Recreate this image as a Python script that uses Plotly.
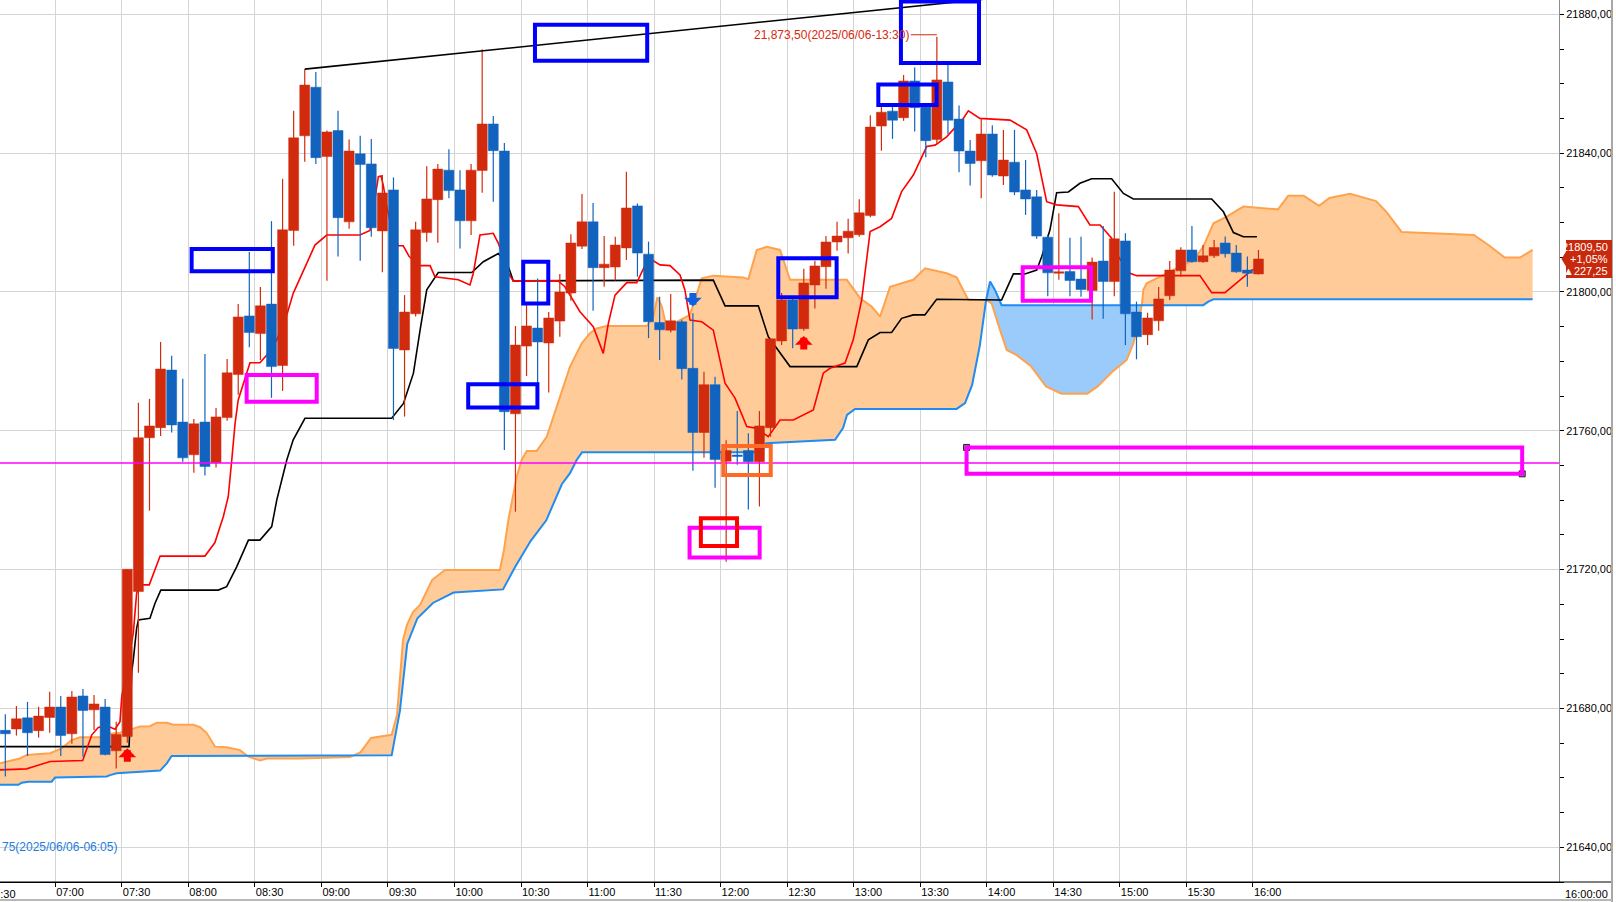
import plotly.graph_objects as go

# ---------------- data ----------------
times = ["06:35","06:40","06:45","06:50","06:55","07:00","07:05","07:10","07:15","07:20","07:25",
         "07:30","07:35","07:40","07:45","07:50","07:55","08:00","08:05","08:10","08:15","08:20",
         "08:25","08:30","08:35","08:40","08:45","08:50","08:55","09:00","09:05","09:10","09:15",
         "09:20","09:25","09:30","09:35","09:40","09:45","09:50","09:55","10:00","10:05","10:10",
         "10:15","10:20","10:25","10:30","10:35","10:40","10:45","10:50","10:55","11:00","11:05",
         "11:10","11:15","11:20","11:25","11:30","11:35","11:40","11:45","11:50","11:55","12:00",
         "12:05","12:10","12:15","12:20","12:25","12:30","12:35","12:40","12:45","12:50","12:55",
         "13:00","13:05","13:10","13:15","13:20","13:25","13:30","13:35","13:40","13:45","13:50",
         "13:55","14:00","14:05","14:10","14:15","14:20","14:25","14:30","14:35","14:40","14:45",
         "14:50","14:55","15:00","15:05","15:10","15:15","15:20","15:25","15:30","15:35","15:40",
         "15:45","15:50","15:55","16:00"]
opens = [21673.7,21674.1,21677.3,21673.6,21677.4,21680.4,21672.7,21683.6,21679.6,21680.4,21667.8,
         21671.9,21713.7,21758.0,21760.9,21777.5,21762.5,21753.1,21762.5,21750.8,21763.8,21776.2,
         21793.1,21788.0,21796.5,21778.8,21817.7,21845.0,21859.0,21839.0,21846.5,21820.2,21839.8,
         21836.9,21817.6,21829.4,21783.3,21793.7,21817.1,21826.6,21835.1,21829.4,21820.5,21835.0,
         21848.4,21840.6,21764.9,21784.4,21789.6,21785.3,21791.6,21799.7,21813.2,21820.2,21807.0,
         21807.2,21812.7,21824.8,21810.9,21791.2,21789.0,21791.4,21778.0,21759.5,21773.3,21751.2,
         21753.0,21754.3,21751.1,21760.9,21785.9,21797.7,21789.4,21802.0,21807.3,21814.4,21815.6,
         21816.5,21822.0,21847.8,21852.1,21850.2,21860.8,21853.4,21843.9,21860.5,21849.8,21840.6,
         21837.8,21845.5,21833.4,21837.4,21829.4,21827.4,21815.8,21805.4,21805.9,21803.7,21800.4,
         21808.9,21803.0,21814.7,21794.2,21787.7,21791.7,21798.9,21806.1,21812.1,21808.7,21810.4,
         21814.1,21811.2,21806.3,21805.2]
highs = [21678.3,21680.7,21681.9,21680.5,21684.8,21683.6,21685.0,21685.6,21683.9,21682.7,21676.2,
         21720.1,21768.1,21769.2,21785.6,21781.6,21775.0,21763.4,21782.1,21766.6,21780.7,21796.5,
         21811.5,21801.4,21820.4,21832.6,21852.2,21864.2,21863.4,21846.5,21852.2,21843.9,21845.0,
         21844.1,21833.7,21833.0,21799.1,21820.2,21836.2,21836.9,21841.1,21835.1,21836.9,21869.9,
         21850.7,21842.9,21790.2,21796.5,21803.9,21794.2,21805.2,21816.6,21828.2,21825.6,21816.1,
         21815.9,21834.6,21825.5,21814.5,21798.6,21799.4,21792.0,21793.9,21777.0,21775.6,21757.3,
         21765.7,21759.3,21765.7,21786.5,21799.7,21798.3,21806.7,21809.0,21816.1,21820.2,21821.1,
         21826.7,21850.9,21853.8,21853.9,21862.5,21864.7,21853.8,21873.5,21865.4,21853.7,21843.8,
         21850.0,21848.0,21846.7,21846.7,21838.0,21829.4,21816.5,21822.7,21815.6,21815.9,21809.9,
         21819.0,21828.9,21816.9,21797.2,21794.0,21801.4,21808.9,21812.9,21819.0,21813.5,21815.0,
         21816.0,21813.5,21810.2,21812.1]
lows = [21660.4,21672.2,21666.3,21671.6,21673.0,21666.3,21669.8,21666.1,21673.8,21666.5,21662.7,
        21670.1,21690.3,21737.0,21758.5,21759.5,21751.1,21747.9,21747.1,21749.4,21762.9,21770.4,
        21784.1,21780.4,21769.5,21771.5,21813.3,21837.5,21836.9,21803.2,21810.2,21818.2,21809.0,
        21815.9,21805.7,21763.1,21764.1,21792.9,21814.5,21814.2,21827.0,21812.5,21816.4,21828.6,
        21826.0,21754.5,21736.7,21775.8,21773.5,21771.0,21787.1,21797.5,21812.4,21794.6,21801.5,
        21803.3,21809.2,21804.4,21786.7,21780.4,21788.3,21774.8,21748.5,21752.2,21743.6,21722.3,
        21750.2,21737.3,21738.2,21758.3,21784.7,21783.8,21788.8,21795.2,21800.9,21811.9,21811.1,
        21815.9,21821.5,21840.7,21844.1,21849.3,21846.2,21838.8,21842.5,21845.5,21834.5,21830.7,
        21827.0,21833.2,21830.8,21827.9,21822.2,21815.3,21798.8,21803.5,21798.8,21798.6,21792.1,
        21792.3,21798.8,21784.7,21780.6,21784.7,21788.8,21797.7,21804.4,21808.4,21808.4,21809.8,
        21809.9,21805.5,21801.5,21805.0]
closes = [21672.7,21677.0,21673.0,21677.8,21680.4,21672.2,21683.3,21679.4,21681.3,21666.7,21672.5,
          21720.1,21758.0,21761.4,21777.8,21761.7,21752.2,21762.0,21749.7,21764.0,21776.7,21792.8,
          21788.3,21796.0,21778.5,21817.9,21844.4,21859.6,21838.7,21846.1,21821.4,21840.6,21836.7,
          21818.5,21828.5,21783.7,21794.2,21817.9,21826.8,21835.4,21829.2,21820.5,21835.1,21848.4,
          21840.7,21765.5,21784.7,21790.2,21785.6,21792.5,21800.0,21814.1,21820.2,21807.0,21808.0,
          21813.5,21824.2,21811.2,21791.4,21789.1,21791.7,21777.9,21759.5,21773.3,21751.7,21754.3,
          21752.6,21751.1,21761.4,21786.5,21797.7,21789.3,21802.6,21807.5,21814.4,21816.1,21817.5,
          21822.8,21847.5,21851.8,21849.5,21860.8,21853.1,21843.6,21861.1,21849.5,21840.6,21837.0,
          21845.5,21833.7,21838.0,21828.8,21826.8,21816.1,21805.5,21805.8,21803.3,21800.7,21808.6,
          21803.0,21815.3,21793.7,21787.1,21792.5,21798.0,21806.3,21812.1,21808.7,21810.4,21812.8,
          21811.0,21805.8,21805.4,21809.5]

# Ichimoku lines: (minutes since midnight, price)
tenkan = [(395.1,21662.3),(407.1,21662.6),(410.1,21663.2),(417.7,21664.7),(432.4,21665.0),(434.5,21669.0),
          (436.5,21672.4),(439.4,21674.5),(443.2,21675.0),(447.0,21674.0),(449.2,21676.2),(450.0,21683.4),
          (455.2,21701.7),(456.7,21713.2),(458.2,21715.6),(462.4,21715.6),(467.3,21723.9),(487.5,21723.9),
          (492.0,21727.8),(495.8,21735.3),(498.0,21741.0),(499.6,21751.6),(501.1,21762.2),(502.5,21768.9),
          (506.3,21776.1),(507.8,21779.6),(512.3,21779.6),(515.4,21781.8),(519.9,21786.2),(524.4,21793.4),
          (527.3,21799.6),(531.9,21806.3),(537.1,21813.5),(542.4,21816.4),(557.4,21816.4),(561.9,21817.7),
          (565.7,21833.2),(566.9,21833.4),(567.9,21830.8),(569.5,21824.6),(571.8,21817.9),(574.7,21813.3),
          (576.9,21813.3),(579.6,21810.2),(584.5,21807.6),(589.0,21807.6),(591.2,21804.4),(601.7,21803.5),
          (607.0,21802.0),(608.5,21805.4),(611.5,21816.4),(617.5,21816.9),(619.8,21814.0),(624.3,21805.4),
          (626.5,21803.2),(646.7,21803.2),(649.8,21801.5),(656.6,21794.3),(662.6,21790.0),(667.1,21782.3),
          (669.4,21791.0),(672.4,21799.1),(677.7,21802.7),(682.2,21802.7),(686.7,21808.7),(689.7,21809.0),
          (692.7,21807.8),(697.2,21807.6),(701.7,21804.9),(703.9,21800.6),(706.2,21791.9),(711.5,21791.4),
          (716.7,21789.0),(722.0,21773.7),(726.5,21769.4),(731.8,21761.2),(736.3,21760.7),(741.5,21758.3),
          (746.8,21763.1),(752.8,21763.1),(757.3,21764.6),(761.8,21766.0),(766.3,21776.6),(769.3,21778.0),
          (776.1,21779.5),(779.8,21786.2),(783.6,21797.7),(787.4,21817.4),(791.9,21818.8),(797.1,21821.2),
          (801.6,21828.9),(806.9,21833.7),(812.9,21841.9),(816.7,21842.3),(821.9,21844.7),(829.4,21850.0),
          (831.7,21852.2),(836.9,21850.0),(850.5,21849.5),(858.0,21846.7),(862.5,21839.9),(867.0,21826.0),
          (871.5,21825.1),(881.3,21824.6),(886.5,21819.3),(891.1,21819.3),(896.3,21815.5),(899.3,21810.2),
          (904.6,21805.4),(907.6,21804.7),(936.1,21804.7),(941.4,21799.8),(947.4,21799.8),(955.7,21804.4),
          (959.5,21806.3),(962.3,21806.9)]
kijun = [(395.1,21669.0),(453.3,21669.0),(454.5,21690.6),(455.2,21694.0),(456.7,21703.1),(457.5,21705.5),
         (462.7,21706.0),(465.0,21710.3),(467.6,21714.1),(493.5,21714.1),(497.3,21715.1),(501.8,21720.8),
         (507.1,21728.5),(512.3,21728.5),(517.6,21732.4),(519.9,21740.1),(524.4,21751.6),(527.3,21757.4),
         (532.6,21763.6),(571.7,21763.6),(577.0,21767.9),(581.5,21776.6),(584.5,21789.0),(587.5,21800.6),
         (592.7,21805.6),(607.8,21805.6),(613.0,21808.7),(619.8,21811.1),(624.3,21807.3),(626.5,21803.2),
         (716.7,21803.4),(722.0,21796.0),(737.0,21796.0),(741.5,21787.1),(751.3,21778.5),(781.4,21778.5),
         (786.6,21786.2),(791.9,21788.3),(797.1,21788.3),(801.6,21792.4),(806.9,21793.4),(812.1,21793.4),
         (817.4,21797.9),(846.7,21797.7),(852.0,21805.2),(857.2,21805.2),(862.5,21806.3),(864.8,21810.2),
         (868.5,21817.9),(871.5,21828.6),(876.8,21828.8),(882.0,21831.3),(887.3,21832.6),(896.3,21832.6),
         (901.6,21828.4),(906.1,21826.8),(941.4,21826.8),(946.7,21823.1),(951.2,21817.1),(955.7,21815.9),
         (961.8,21815.9)]
span_a = [(395.1,21664.2),(404.1,21665.6),(407.1,21666.6),(417.7,21667.1),(422.9,21668.5),(427.4,21670.9),
          (431.2,21671.7),(440.2,21671.7),(444.7,21672.7),(449.2,21673.0),(455.2,21674.2),(458.2,21674.8),
          (462.7,21674.9),(465.8,21675.9),(470.3,21675.9),(473.2,21675.3),(482.3,21675.3),(485.3,21674.6),
          (488.3,21672.9),(492.0,21669.0),(497.3,21668.8),(503.3,21668.0),(507.1,21666.1),(512.3,21665.0),
          (515.4,21665.6),(530.4,21665.6),(552.9,21666.0),(557.7,21667.4),(562.4,21671.5),(571.7,21672.4),
          (574.1,21678.1),(576.8,21699.7),(578.6,21704.1),(581.3,21707.8),(584.5,21709.8),(589.9,21717.0),
          (595.7,21719.9),(620.5,21719.9),(622.3,21725.6),(624.3,21734.3),(628.1,21746.8),(630.3,21751.6),
          (632.6,21754.2),(637.1,21754.2),(641.6,21758.3),(646.1,21767.0),(652.1,21778.5),(657.4,21785.2),
          (661.1,21788.1),(664.1,21789.5),(668.6,21790.2),(686.7,21790.2),(689.7,21792.9),(691.5,21798.5),
          (693.5,21795.8),(694.9,21791.9),(696.4,21790.0),(701.7,21791.9),(706.2,21793.4),(711.5,21803.9),
          (716.7,21804.7),(730.2,21804.2),(732.5,21803.7),(736.3,21812.1),(740.8,21813.0),(746.8,21812.1),
          (751.3,21803.5),(776.9,21803.5),(782.9,21798.2),(788.1,21795.8),(791.9,21792.9),(796.4,21801.5),
          (806.9,21803.5),(812.2,21806.8),(821.9,21805.4),(826.4,21804.2),(831.7,21797.7),(839.7,21797.7),
          (842.2,21796.7),(846.0,21789.0),(849.0,21783.3),(853.5,21781.8),(859.8,21778.7),(866.7,21772.8),
          (873.7,21770.7),(885.3,21770.7),(890.0,21772.8),(896.9,21777.2),(903.1,21780.4),(906.1,21785.2),
          (908.3,21791.0),(909.9,21796.2),(910.6,21800.6),(912.1,21802.5),(918.1,21804.4),(933.1,21809.2),
          (937.6,21813.0),(942.2,21819.8),(948.2,21821.7),(955.7,21824.6),(971.3,21823.8),(975.9,21827.7),
          (982.9,21827.7),(989.8,21824.8),(994.5,21827.1),(1003.8,21828.3),(1015.5,21826.2),(1020.0,21823.2),
          (1027.0,21817.3),(1059.6,21816.4),(1066.5,21813.4),(1073.5,21809.9),(1080.4,21809.9),(1086.1,21812.1)]
span_b = [(395.1,21658.0),(403.4,21658.0),(404.9,21658.6),(407.9,21658.9),(418.4,21658.9),(419.9,21660.1),
          (443.2,21660.4),(444.7,21660.8),(447.7,21661.3),(455.2,21661.6),(467.3,21662.1),(470.3,21664.2),
          (472.5,21666.3),(571.7,21666.5),(575.4,21679.3),(578.7,21698.6),(583.3,21706.0),(590.3,21710.4),
          (599.6,21713.4),(621.9,21714.3),(627.4,21720.8),(634.4,21728.3),(641.4,21734.2),(648.4,21744.6),
          (652.1,21747.8),(655.1,21751.6),(657.5,21753.8),(738.5,21753.8),(740.5,21756.4),(771.6,21757.4),
          (775.2,21760.8),(777.0,21764.6),(780.6,21766.3),(826.4,21766.3),(830.2,21768.0),(833.4,21773.2),
          (836.9,21784.7),(839.7,21797.7),(841.5,21803.0),(843.7,21800.6),(846.7,21796.2),(909.9,21796.2),
          (937.6,21796.2),(939.9,21797.2),(942.2,21797.9),(1086.1,21797.9)]
blue_cloud_from, blue_cloud_to = 839.7, 909.9   # span B above span A

# user drawings (rectangles): start/end minute, bottom/top price, colour
rect_t0 = [481.5, 506.3, 636.3, 631.0, 606.2, 801.3, 791.1, 746.0, 721.2, 706.0, 711.1, 856.2, 830.9]
rect_t1 = [518.1, 537.9, 686.9, 642.3, 637.4, 836.5, 817.4, 772.3, 742.6, 737.6, 727.4, 887.0, 1081.4]
rect_p0 = [21806.0, 21768.4, 21866.6, 21796.7, 21766.7, 21866.0, 21853.9, 21798.5, 21747.3, 21723.5, 21726.8, 21797.5, 21747.6]
rect_p1 = [21812.4, 21776.1, 21877.0, 21808.7, 21773.4, 21883.7, 21859.8, 21809.7, 21755.6, 21732.1, 21734.8, 21807.1, 21755.2]
rect_col = ["#0000FF", "#FF00FF", "#0000FF", "#0000FF", "#0000FF", "#0000FF", "#0000FF", "#0000FF",
            "#FF6A26", "#FF00FF", "#FF0000", "#FF00FF", "#FF00FF"]
hline_price = 21750.75
trend_t = [532.5, 900.0]
trend_p = [21864.2, 21888.4]

up_arrows_t = ["07:30", "12:35"]
up_arrows_p = [21668.5, 21787.3]
down_arrows_t = ["11:45"]
down_arrows_p = [21795.8]

high_label = "21,873,50(2025/06/06-13:30)"
high_time, high_price = "13:35", 21873.5
low_label = "75(2025/06/06-06:05)"
low_label_price = 21640.1
last_change = ["+1,05%", "\u25b2227,25"]

tick_text = ["07:00","07:30","08:00","08:30","09:00","09:30","10:00","10:30","11:00","11:30",
             "12:00","12:30","13:00","13:30","14:00","14:30","15:00","15:30","16:00"]

# ---------------- helpers ----------------
def tm(s):
    h, m = s.split(":")
    return int(h) * 60 + float(m)

UP = "#D22A0C"
DOWN = "#1263BE"
BAR_HALF = 2.5
BODY_HALF = 2.25
x_range = [395.1, 1098.0]
y_range = [21630.0, 21884.12]
FONT = "Liberation Sans"

xc = [tm(t) + BAR_HALF for t in times]
is_up = [c >= o for o, c in zip(opens, closes)]

fig = go.Figure()

# cloud fills
a_t = [p[0] for p in span_a]; a_p = [p[1] for p in span_a]
b_t = [p[0] for p in span_b]; b_p = [p[1] for p in span_b]
fig.add_trace(go.Scatter(x=a_t + b_t[::-1], y=a_p + b_p[::-1], fill="toself", fillcolor="#FFCC99",
                         mode="none", hoverinfo="skip"))
bb = [p for p in span_b if blue_cloud_from <= p[0] <= blue_cloud_to]
aa = [p for p in span_a if blue_cloud_from <= p[0] <= blue_cloud_to]
fig.add_trace(go.Scatter(x=[p[0] for p in bb] + [p[0] for p in aa[::-1]],
                         y=[p[1] for p in bb] + [p[1] for p in aa[::-1]],
                         fill="toself", fillcolor="#9ACBFB", mode="none", hoverinfo="skip"))
fig.add_trace(go.Scatter(x=a_t, y=a_p, mode="lines", line=dict(color="#FFA24E", width=2), hoverinfo="skip"))
fig.add_trace(go.Scatter(x=b_t, y=b_p, mode="lines", line=dict(color="#1E8CF0", width=2), hoverinfo="skip"))

# tenkan / kijun
fig.add_trace(go.Scatter(x=[p[0] for p in kijun], y=[p[1] for p in kijun], mode="lines",
                         line=dict(color="black", width=1.6), hoverinfo="skip"))
fig.add_trace(go.Scatter(x=[p[0] for p in tenkan], y=[p[1] for p in tenkan], mode="lines",
                         line=dict(color="#FF0000", width=1.6), hoverinfo="skip"))

# wicks and bodies (scatter polygons so they sit above the cloud fill)
for flag, col in ((True, UP), (False, DOWN)):
    wx, wy, bx, by = [], [], [], []
    for x, o, h, l, c, u in zip(xc, opens, highs, lows, closes, is_up):
        if u != flag:
            continue
        wx += [x, x, None]
        wy += [l, h, None]
        lo = min(o, c)
        hi = max(max(o, c), lo + 0.4)
        bx += [x - BODY_HALF, x + BODY_HALF, x + BODY_HALF, x - BODY_HALF, x - BODY_HALF, None]
        by += [lo, lo, hi, hi, lo, None]
    fig.add_trace(go.Scatter(x=wx, y=wy, mode="lines", line=dict(color=col, width=1.2), hoverinfo="skip"))
    fig.add_trace(go.Scatter(x=bx, y=by, mode="lines", fill="toself", fillcolor=col,
                             line=dict(color=col, width=0.5), hoverinfo="skip"))

# selection handles of the large magenta box
fig.add_trace(go.Scatter(x=[rect_t0[-1], rect_t1[-1]], y=[rect_p1[-1], rect_p0[-1]], mode="markers",
                         marker=dict(symbol="square", size=6, color="#8A8A8A", line=dict(color="#222", width=1)),
                         hoverinfo="skip"))

shapes = []
shapes.append(dict(type="line", xref="paper", x0=0, x1=1, yref="y", y0=hline_price, y1=hline_price,
                   line=dict(color="#FF00FF", width=1.5)))
shapes.append(dict(type="line", xref="x", yref="y", x0=trend_t[0], x1=trend_t[1], y0=trend_p[0], y1=trend_p[1],
                   line=dict(color="black", width=1.6)))
for t0, t1, p0, p1, c in zip(rect_t0, rect_t1, rect_p0, rect_p1, rect_col):
    shapes.append(dict(type="rect", xref="x", yref="y", x0=t0, x1=t1, y0=p0, y1=p1,
                       line=dict(color=c, width=4), fillcolor="rgba(0,0,0,0)"))

# frame pieces
px_w = 1559.0
shapes.append(dict(type="line", xref="paper", yref="paper", x0=0, x1=1612 / px_w, y0=0, y1=0,
                   line=dict(color="black", width=1)))
shapes.append(dict(type="line", xref="paper", yref="paper", x0=1612 / px_w, x1=1612 / px_w, y0=-0.03, y1=1,
                   line=dict(color="#A8A8A8", width=2)))
shapes.append(dict(type="line", xref="paper", yref="paper", x0=0, x1=1612 / px_w, y0=-18 / 882, y1=-18 / 882,
                   line=dict(color="#B8B8B8", width=2)))

# last-price label on the axis
last = closes[-1]
shapes.append(dict(type="rect", xref="paper", yref="y", x0=1566 / px_w, x1=1612 / px_w,
                   y0=last - 5.5, y1=last + 5.5, fillcolor="#C8290C", line=dict(width=0)))
shapes.append(dict(type="path", xref="paper", yref="y",
                   path=f"M {1561.5/px_w},{last} L {1566.5/px_w},{last+2.4} L {1566.5/px_w},{last-2.4} Z",
                   fillcolor="#C8290C", line=dict(width=0)))

annotations = []
lines_lbl = [f"{last:.2f}".replace(".", ",")] + last_change
for i, txt in enumerate(lines_lbl):
    annotations.append(dict(xref="paper", yref="y", x=1610 / px_w, y=last, yshift=12 - 12 * i,
                            xanchor="right", yanchor="middle", text=txt, showarrow=False,
                            font=dict(family=FONT, size=11, color="white")))

for t, p in zip(up_arrows_t, up_arrows_p):
    annotations.append(dict(x=tm(t) + BAR_HALF, y=p, xref="x", yref="y", ax=0, ay=15,
                            text="", showarrow=True, arrowhead=1, arrowsize=0.42, arrowwidth=7,
                            arrowcolor="#FF0000", standoff=0))
for t, p in zip(down_arrows_t, down_arrows_p):
    annotations.append(dict(x=tm(t) + BAR_HALF, y=p, xref="x", yref="y", ax=0, ay=-15,
                            text="", showarrow=True, arrowhead=1, arrowsize=0.42, arrowwidth=7,
                            arrowcolor="#1060E0", standoff=0))

annotations.append(dict(x=tm(high_time) + BAR_HALF, y=high_price + 0.6, xref="x", yref="y", ax=-26, ay=0,
                        text=high_label, showarrow=True, arrowhead=0, arrowwidth=1, arrowcolor="#D42A0E",
                        xanchor="right", font=dict(family=FONT, size=12, color="#D42A0E")))
annotations.append(dict(xref="paper", yref="y", x=0, y=low_label_price, xanchor="left", yanchor="middle",
                        text=low_label, showarrow=False, font=dict(family=FONT, size=12, color="#1C7CE0")))
annotations.append(dict(xref="paper", yref="paper", x=(-14.5) / px_w, y=0, yanchor="top", xanchor="left",
                        yshift=-4, text="06:30", showarrow=False, font=dict(family=FONT, size=11, color="black")))
annotations.append(dict(xref="paper", yref="paper", x=1610 / px_w, y=0, yanchor="top", xanchor="right",
                        yshift=-4, text="16:00:00", showarrow=False, font=dict(family=FONT, size=11, color="black")))

fig.update_layout(
    width=1616, height=902,
    margin=dict(l=0, r=57, t=0, b=20),
    paper_bgcolor="white", plot_bgcolor="white",
    showlegend=False,
    separators=",.",
    font=dict(family=FONT, size=11, color="black"),
    shapes=shapes, annotations=annotations,
    xaxis=dict(range=x_range, tickvals=[tm(s) for s in tick_text], ticktext=tick_text,
               showgrid=True, gridcolor="#D4D4D4", gridwidth=1, ticks="outside", ticklen=4,
               tickcolor="black", ticklabelposition="outside right", showline=True,
               linecolor="black", linewidth=1, zeroline=False, tickfont=dict(size=11)),
    yaxis=dict(side="right", range=y_range, tick0=21640, dtick=40, tickformat=".2f",
               ticks="outside", ticklen=4, tickcolor="black", showline=True, linecolor="#8C8C8C",
               linewidth=1, gridcolor="#D4D4D4", zeroline=False, tickfont=dict(size=11),
               minor=dict(dtick=10, ticks="outside", ticklen=4, tickcolor="black", showgrid=False)),
)

fig.write_html("out.html", config={"displayModeBar": False},
               post_script="document.body.style.margin='0';document.body.style.overflow='hidden';")
